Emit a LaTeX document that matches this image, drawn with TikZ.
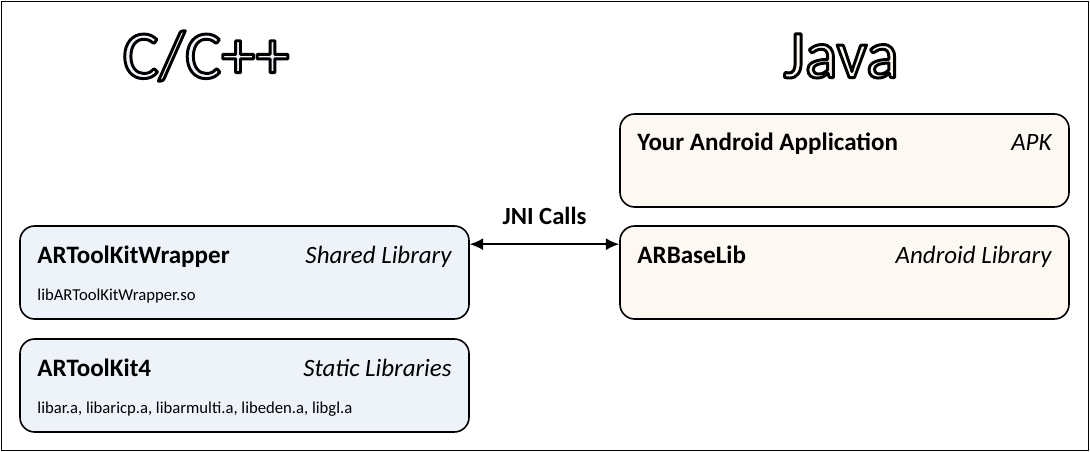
\documentclass[tikz,border=0pt]{standalone}
\usepackage{fontspec}
\setmainfont{Carlito}
\usepackage{xcolor}
\usepackage{tikz}
\usetikzlibrary{calc}
\usetikzlibrary{arrows.meta}
\definecolor{cfill}{HTML}{EEF3FA}
\definecolor{jfill}{HTML}{FDF8F2}
% outlined heading: filled in #1, stroked in black
\newcommand{\outlinetext}[2]{\textcolor{#1}{\special{pdf:literal direct q 0 G 2 Tr 2.2 w 1 j}#2\special{pdf:literal direct Q}}}
\tikzset{
	libbox/.style={draw,line width=1.2pt,rounded corners=11pt,minimum width=336.75pt,minimum height=69.75pt,fill=#1,inner sep=0pt},
	libname/.style={font=\fontsize{18.8}{22}\selectfont\bfseries,inner sep=0pt},
	libkind/.style={font=\fontsize{18.7}{22}\selectfont\itshape,inner sep=0pt},
	libfile/.style={font=\fontsize{12.5}{15}\selectfont,inner sep=0pt},
	langtitle/.style={font=\fontsize{51}{56}\selectfont,inner sep=0pt}
}
\begin{document}
\begin{tikzpicture}[x=0.75pt,y=-0.75pt]
	\useasboundingbox (0,0) rectangle (1090,452);
	\draw[line width=1.2pt] (1.5,1.5) rectangle (1088.5,450.5);% outer frame
	% language headings
	\node[langtitle] (ctitle) at (206,56) {\outlinetext{cfill}{C/C++}};
	\node[langtitle] (jtitle) at (841,56) {\outlinetext{jfill}{Java}};
	% boxes on the C side
	\node[libbox=cfill] (wrapper) at (244.5,272.5) {};
	\node[libbox=cfill] (toolkit) at (244.5,385.5) {};
	% boxes on the Java side
	\node[libbox=jfill] (apk) at (844.5,160.5) {};
	\node[libbox=jfill] (arbase) at (844.5,272.5) {};
	% texts in the boxes
	\node[libname,anchor=base west] (wrappername) at ($(wrapper.north west)+(18,38)$) {ARToolKitWrapper};
	\node[libkind,anchor=base east] (wrapperkind) at ($(wrapper.north east)+(-18,38)$) {Shared Library};
	\node[libfile,anchor=base west] (wrapperfile) at ($(wrapper.north west)+(18,75)$) {libARToolKitWrapper.so};
	\node[libname,anchor=base west] (toolkitname) at ($(toolkit.north west)+(18,38)$) {ARToolKit4};
	\node[libkind,anchor=base east] (toolkitkind) at ($(toolkit.north east)+(-18,38)$) {Static Libraries};
	\node[libfile,anchor=base west] (toolkitfile) at ($(toolkit.north west)+(18,75)$) {libar.a, libaricp.a, libarmulti.a, libeden.a, libgl.a};
	\node[libname,anchor=base west] (apkname) at ($(apk.north west)+(18,37)$) {Your Android Application};
	\node[libkind,anchor=base east] (apkkind) at ($(apk.north east)+(-18,37)$) {APK};
	\node[libname,anchor=base west] (arbasename) at ($(arbase.north west)+(18,38)$) {ARBaseLib};
	\node[libkind,anchor=base east] (arbasekind) at ($(arbase.north east)+(-18,38)$) {Android Library};
	% the JNI link
	\coordinate (jnileft) at ($(wrapper.north east)+(0,19)$);
	\coordinate (jniright) at ($(arbase.north west)+(0,19)$);
	\draw[line width=1.2pt,{Latex[length=10pt,width=9pt]}-{Latex[length=10pt,width=9pt]}] (jnileft) -- (jniright);
	\node[libname,font=\fontsize{18.5}{22}\selectfont\bfseries,anchor=base] (jni) at ($(jnileft)!0.5!(jniright)+(0,-20)$) {JNI Calls};
\end{tikzpicture}
\end{document}
